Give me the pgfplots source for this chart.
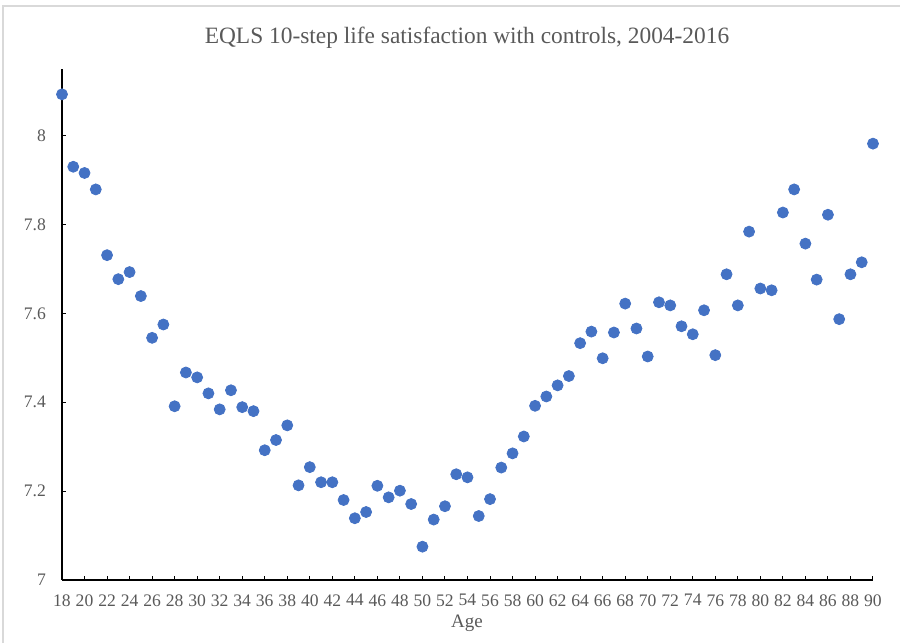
\documentclass[border=0pt]{standalone}
\usepackage{pgfplots}
\pgfplotsset{compat=1.18}
\usepackage{fontspec}
\setmainfont{Liberation Serif}
\definecolor{txt}{HTML}{595959}
\definecolor{ptc}{HTML}{4472C4}
\definecolor{brd}{HTML}{D9D9D9}
\begin{document}
\begin{tikzpicture}
\path[use as bounding box] (0,0) rectangle (450pt,321.5pt);
\draw[brd, line width=0.75pt] (1.5pt,0) -- (1.5pt,318.5pt) -- (450pt,318.5pt);
\begin{axis}[
  at={(31pt,31.5pt)}, anchor=south west,
  scale only axis, width=405.5pt, height=255.5pt,
  xmin=18, xmax=90, ymin=7, ymax=8.15,
  axis x line*=bottom, axis y line*=left,
  xtick={18,20,...,90}, ytick={7,7.2,7.4,7.6,7.8,8},
  tick align=inside, major tick length=2pt,
  axis line style={line width=1.2pt, black},
  tick style={black, line width=0.5pt},
  ticklabel style={font=\fontsize{8.8}{10}\selectfont, color=txt},
  xticklabel style={yshift=-6pt, inner sep=1pt},
  yticklabel style={xshift=-4.5pt},
  /pgf/number format/assume math mode=true,
  clip=false,
]
\addplot[only marks, mark=*, mark size=2.75pt, mark options={fill=ptc, draw=ptc}] coordinates {
(18,8.093) (19,7.930) (20,7.916) (21,7.879) (22,7.731) (23,7.677) (24,7.693) (25,7.639)
(26,7.545) (27,7.575) (28,7.391) (29,7.467) (30,7.456) (31,7.420) (32,7.384) (33,7.427)
(34,7.389) (35,7.380) (36,7.292) (37,7.315) (38,7.348) (39,7.213) (40,7.254) (41,7.220)
(42,7.220) (43,7.180) (44,7.139) (45,7.153) (46,7.212) (47,7.186) (48,7.201) (49,7.171)
(50,7.075) (51,7.136) (52,7.166) (53,7.238) (54,7.231) (55,7.144) (56,7.182) (57,7.253)
(58,7.285) (59,7.323) (60,7.392) (61,7.413) (62,7.438) (63,7.459) (64,7.533) (65,7.559)
(66,7.499) (67,7.557) (68,7.622) (69,7.566) (70,7.503) (71,7.625) (72,7.618) (73,7.571)
(74,7.553) (75,7.607) (76,7.506) (77,7.688) (78,7.618) (79,7.784) (80,7.656) (81,7.652)
(82,7.827) (83,7.879) (84,7.757) (85,7.676) (86,7.822) (87,7.587) (88,7.688) (89,7.715)
(90,7.982)
};
\end{axis}
\node[text=txt, font=\fontsize{11.7}{14}\selectfont] at (233.5pt,302.5pt) {EQLS 10-step life satisfaction with controls, 2004-2016};
\node[text=txt, font=\fontsize{9.5}{11}\selectfont, inner sep=0pt, anchor=base] at (233.5pt,8pt) {Age};
\end{tikzpicture}
\end{document}
